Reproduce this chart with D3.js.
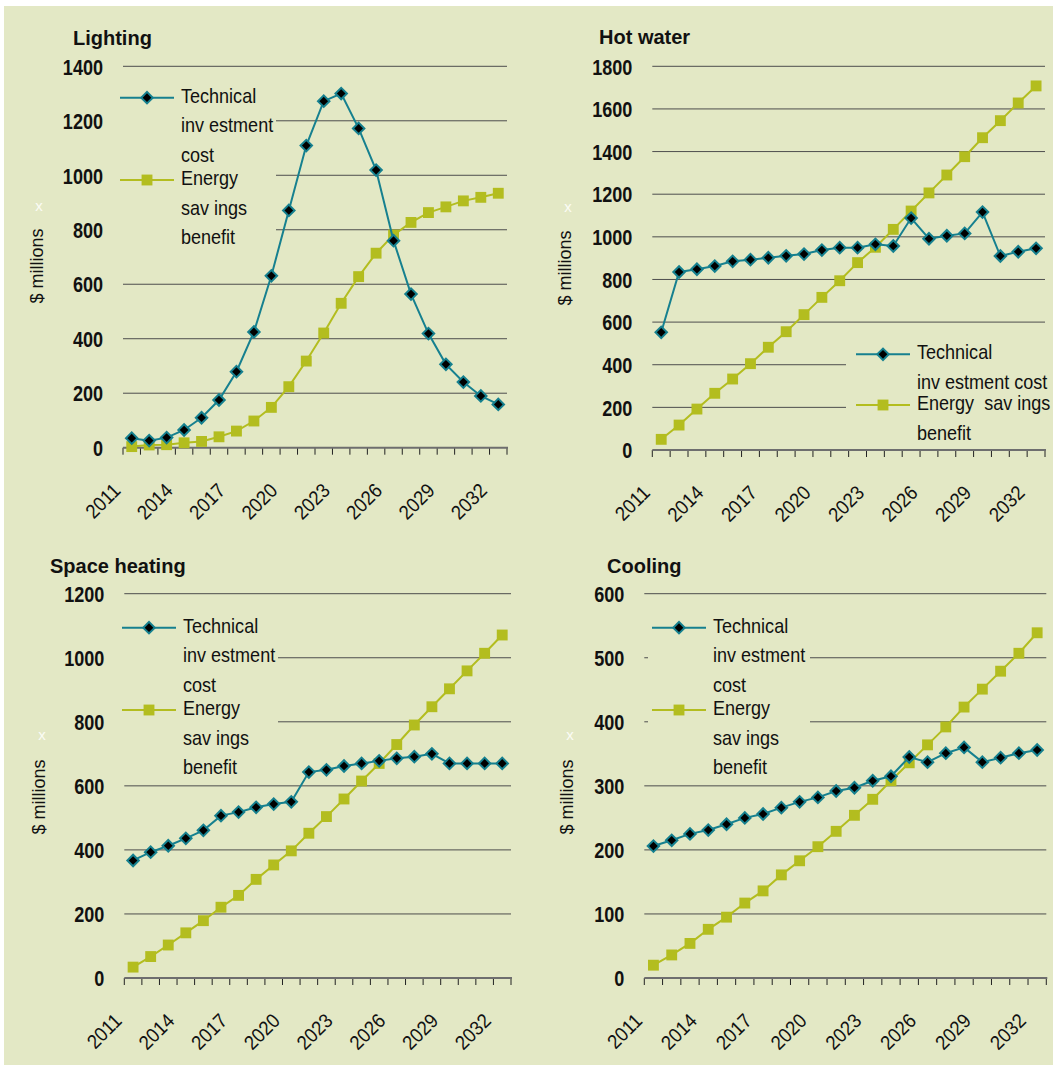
<!DOCTYPE html>
<html>
<head>
<meta charset="utf-8">
<script src="https://cdn.jsdelivr.net/npm/d3@7/dist/d3.min.js"></script>
<style>
  body { margin: 0; background: #fff; }
  svg { display: block; }
  text { font-family: "Liberation Sans", Arial, sans-serif; fill: #111; }
  .title { font-weight: bold; font-size: 20px; }
</style>
</head>
<body>
<svg id="chart" width="1053" height="1066"></svg>
<script>
// categories
var years = ["2011", "2012", "2013", "2014", "2015", "2016", "2017", "2018", "2019", "2020", "2021",
  "2022", "2023", "2024", "2025", "2026", "2027", "2028", "2029", "2030", "2031", "2032"];
var labelYears = ["2011", "2014", "2017", "2020", "2023", "2026", "2029", "2032"];

// $ millions
var lightingCost = [35, 26, 37, 65, 110, 175, 279, 425, 631, 871, 1109, 1272, 1300, 1172, 1019, 760, 564, 419, 306, 241, 190, 159];
var lightingBenefit = [4, 10, 11, 18, 23, 40, 61, 98, 148, 224, 318, 421, 530, 628, 714, 781, 827, 863, 884, 906, 919, 934];
var hotWaterCost = [552, 835, 848, 863, 885, 893, 902, 911, 919, 938, 949, 949, 965, 957, 1088, 991, 1005, 1016, 1116, 910, 930, 946];
var hotWaterBenefit = [50, 117, 192, 266, 333, 405, 482, 555, 635, 716, 794, 879, 951, 1035, 1121, 1206, 1290, 1376, 1465, 1545, 1628, 1708];
var heatingCost = [367, 393, 413, 436, 461, 507, 518, 533, 543, 550, 643, 650, 662, 670, 678, 686, 691, 700, 670, 670, 670, 670];
var heatingBenefit = [34, 67, 103, 141, 179, 221, 258, 308, 353, 397, 452, 504, 559, 615, 670, 729, 790, 847, 903, 959, 1014, 1071];
var coolingCost = [206, 215, 225, 231, 240, 250, 256, 266, 275, 282, 292, 297, 308, 315, 345, 337, 351, 360, 337, 344, 351, 356];
var coolingBenefit = [20, 36, 54, 76, 95, 117, 136, 161, 183, 205, 229, 254, 279, 308, 336, 364, 392, 423, 451, 479, 507, 539];

var lightingTicks = [0, 200, 400, 600, 800, 1000, 1200, 1400];
var hotWaterTicks = [0, 200, 400, 600, 800, 1000, 1200, 1400, 1600, 1800];
var heatingTicks = [0, 200, 400, 600, 800, 1000, 1200];
var coolingTicks = [0, 100, 200, 300, 400, 500, 600];

var TEAL = "#16808f", LIME = "#b3bd1f", BG = "#e3e8c5";
var NARROW = 0.84; // no Arial Narrow installed, squeeze Liberation Sans instead

var panels = [
  { title: "Lighting", cost: lightingCost, benefit: lightingBenefit, ticks: lightingTicks,
    left: 123, right: 507, top: 66.3, bottom: 447.7, titleX: 73, titleY: 45, yTitle: [37, 266], mark: [39, 206],
    box: [116, 72, 160, 182], legX: 120, legY: 102.7,
    costLines: ["Technical", "inv estment", "cost"], benefitLines: ["Energy", "sav ings", "benefit"],
    lineGap: 29.5, entryGap: 82.3 },
  { title: "Hot water", cost: hotWaterCost, benefit: hotWaterBenefit, ticks: hotWaterTicks,
    left: 652.3, right: 1045, top: 66.3, bottom: 450, titleX: 599, titleY: 44.3, yTitle: [565, 268], mark: [568, 207],
    box: [846, 330, 207, 116], legX: 856, legY: 359.3,
    costLines: ["Technical", "inv estment cost"], benefitLines: ["Energy  sav ings", "benefit"],
    lineGap: 30, entryGap: 50.7 },
  { title: "Space heating", cost: heatingCost, benefit: heatingBenefit, ticks: heatingTicks,
    left: 124.3, right: 511, top: 593.7, bottom: 978, titleX: 50, titleY: 572.7, yTitle: [39, 797], mark: [42, 735],
    box: [118, 600, 160, 184], legX: 122, legY: 632.7,
    costLines: ["Technical", "inv estment", "cost"], benefitLines: ["Energy", "sav ings", "benefit"],
    lineGap: 29.5, entryGap: 82.3 },
  { title: "Cooling", cost: coolingCost, benefit: coolingBenefit, ticks: coolingTicks,
    left: 644.3, right: 1046.3, top: 593.7, bottom: 978, titleX: 607, titleY: 572.7, yTitle: [567, 797], mark: [570, 735],
    box: [648, 600, 162, 184], legX: 652, legY: 632.7,
    costLines: ["Technical", "inv estment", "cost"], benefitLines: ["Energy", "sav ings", "benefit"],
    lineGap: 29.5, entryGap: 82.3 }
];

var svg = d3.select("#chart");

// background
svg.append("rect").attr("x", 4).attr("y", 6).attr("width", 1049).attr("height", 1059).attr("fill", BG);

var diamond = d3.symbol().type(d3.symbolSquare).size(66);
var square = d3.symbol().type(d3.symbolSquare).size(118);

panels.forEach(function(p) {
  var g = svg.append("g");

  var x = d3.scaleBand().domain(years).range([p.left, p.right]).padding(0);
  var y = d3.scaleLinear().domain([0, p.ticks[p.ticks.length - 1]]).range([p.bottom, p.top]);
  var cx = function(d, i) { return x(years[i]) + x.bandwidth() / 2; };

  // gridlines
  g.append("g").selectAll("line")
    .data(p.ticks.filter(function(t) { return t > 0; }))
    .enter().append("line")
    .attr("x1", p.left).attr("x2", p.right)
    .attr("y1", function(t) { return y(t); }).attr("y2", function(t) { return y(t); })
    .attr("stroke", "#4d4d4d").attr("stroke-width", 1);

  // y axis labels
  var ya = g.append("g").attr("transform", "translate(" + p.left + ",0)")
    .call(d3.axisLeft(y).tickValues(p.ticks).tickSize(0).tickPadding(20).tickFormat(d3.format("d")));
  ya.select(".domain").remove();
  ya.selectAll("text").attr("font-family", null).attr("font-size", null)
    .attr("x", -20 / NARROW).attr("transform", "scale(" + NARROW + ",1)")
    .style("font-size", "21.5px").style("font-weight", "bold").attr("dy", "0.36em");

  // x axis: line, ticks at category boundaries, rotated labels
  var bounds = years.map(function(yr) { return x(yr); }).concat([p.right]);
  g.append("g").selectAll("line").data(bounds).enter().append("line")
    .attr("x1", function(d) { return d; }).attr("x2", function(d) { return d; })
    .attr("y1", p.bottom).attr("y2", p.bottom + 7)
    .attr("stroke", "#222").attr("stroke-width", 1);
  g.append("line").attr("x1", p.left).attr("x2", p.right + 1)
    .attr("y1", p.bottom).attr("y2", p.bottom)
    .attr("stroke", "#6e6e6e").attr("stroke-width", 2);
  g.append("g").selectAll("text").data(labelYears).enter().append("text")
    .attr("transform", function(d) {
      return "translate(" + (x(d) + x.bandwidth() / 2 - 10) + "," + (p.bottom + 44) + ") rotate(-45) scale(0.92,1)";
    })
    .attr("text-anchor", "end").style("font-size", "20px").text(function(d) { return d; });

  // titles
  g.append("text").attr("class", "title").attr("x", p.titleX).attr("y", p.titleY).text(p.title);
  g.append("text")
    .attr("transform", "translate(" + p.yTitle[0] + "," + p.yTitle[1] + ") rotate(-90)")
    .attr("text-anchor", "middle").attr("dy", "0.35em").style("font-size", "18px").text("$ millions");
  g.append("text").attr("x", p.mark[0]).attr("y", p.mark[1]).attr("text-anchor", "middle").attr("dy", "0.35em")
    .style("font-size", "15px").style("fill", "#fbfcf5").text("x");

  // legend background hides gridlines
  g.append("rect").attr("x", p.box[0]).attr("y", p.box[1]).attr("width", p.box[2]).attr("height", p.box[3]).attr("fill", BG);

  // series
  var line = d3.line().x(cx).y(function(d) { return y(d); });
  g.append("path").datum(p.benefit).attr("d", line).attr("fill", "none").attr("stroke", LIME).attr("stroke-width", 2);
  g.append("g").selectAll("path").data(p.benefit).enter().append("path")
    .attr("d", square).attr("fill", LIME)
    .attr("transform", function(d, i) { return "translate(" + cx(d, i) + "," + y(d) + ")"; });
  g.append("path").datum(p.cost).attr("d", line).attr("fill", "none").attr("stroke", TEAL).attr("stroke-width", 2);
  g.append("g").selectAll("path").data(p.cost).enter().append("path")
    .attr("d", diamond).attr("fill", "#000").attr("stroke", TEAL).attr("stroke-width", 2)
    .attr("transform", function(d, i) { return "translate(" + cx(d, i) + "," + y(d) + ") rotate(45)"; });

  // legend
  var entries = [
    { lines: p.costLines, color: TEAL, kind: "diamond" },
    { lines: p.benefitLines, color: LIME, kind: "square" }
  ];
  entries.forEach(function(e, k) {
    var by = p.legY + k * p.entryGap;
    var my = by - 5;
    g.append("line").attr("x1", p.legX).attr("x2", p.legX + 54).attr("y1", my).attr("y2", my)
      .attr("stroke", e.color).attr("stroke-width", 2);
    if (e.kind === "diamond") {
      g.append("path").attr("d", diamond).attr("fill", "#000").attr("stroke", TEAL).attr("stroke-width", 2)
        .attr("transform", "translate(" + (p.legX + 27) + "," + my + ") rotate(45)");
    } else {
      g.append("path").attr("d", square).attr("fill", LIME)
        .attr("transform", "translate(" + (p.legX + 27) + "," + my + ")");
    }
    g.append("g").selectAll("text").data(e.lines).enter().append("text")
      .attr("transform", function(d, i) {
        return "translate(" + (p.legX + 61) + "," + (by + i * p.lineGap) + ") scale(0.88,1)";
      })
      .style("font-size", "20.5px").style("white-space", "pre").text(function(d) { return d; });
  });
});
</script>
</body>
</html>
